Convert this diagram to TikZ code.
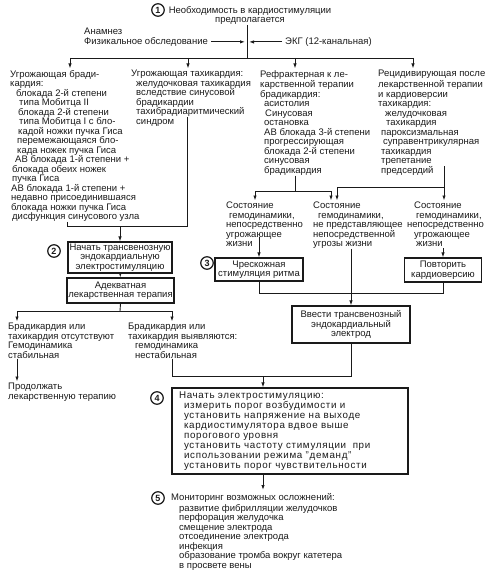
\documentclass[tikz,border=0pt]{standalone}
\usepackage{fontspec}
\setmainfont{Liberation Sans}
\usetikzlibrary{arrows.meta, positioning}
\definecolor{ink}{HTML}{1a1a1a}
\def\rowSkip{9.5}
\def\textSize{9.5}

\begin{document}
\begin{tikzpicture}[
    x=1pt, y=-1pt,
    font=\fontsize{\textSize}{\rowSkip}\selectfont,
    every node/.style={text=ink},
    txt/.style={anchor=north west, align=left, inner sep=0pt},
    box/.style={draw=ink, line width=1.1pt, inner sep=0pt, align=center},
    num/.style={circle, draw=ink, line width=1.2pt, inner sep=0pt,
                minimum size=12.5pt, font=\fontsize{9}{9}\selectfont\bfseries},
    link/.style={draw=ink, line width=0.9pt},
    arr/.style={link, -{Latex[length=5pt,width=3.4pt]}},
    ]
\useasboundingbox (0,0) rectangle (491,572);

% ====================================================================
% Step 1 -- indication and work-up
% ====================================================================
\node[num] (n1) at (158,10) {1};
\node[anchor=north, align=center, inner sep=0pt] (need) at (250,6)
  {\strut Необходимость в кардиостимуляции\\предполагается};
\node[anchor=base west, inner sep=0pt] (anam) at (84,34.4) {Анамнез};
\node[anchor=base west, inner sep=0pt] (phys) at (84,44.4) {Физикальное обследование};
\node[anchor=base west, inner sep=0pt] (ecg) at (285,44.4) {ЭКГ (12-канальная)};

% Four clinical groups
\node[txt] (brady) at (10,70) {\strut Угрожающая бради-\\
  кардия:\\
  \hspace*{6pt}блокада 2-й степени\\
  \hspace*{9pt}типа Мобитца II\\
  \hspace*{8pt}блокада 2-й степени\\
  \hspace*{9pt}типа Мобитца I с бло-\\
  \hspace*{8pt}кадой ножки пучка Гиса\\
  \hspace*{7pt}перемежающаяся бло-\\
  \hspace*{7pt}када ножек пучка Гиса\\
  \hspace*{5pt}АВ блокада 1-й степени +\\
  \hspace*{2pt}блокада обеих ножек\\
  \hspace*{2pt}пучка Гиса\\
  \hspace*{1pt}АВ блокада 1-й степени +\\
  \hspace*{1pt}недавно присоединившаяся\\
  \hspace*{1pt}блокада ножки пучка Гиса\\
  \hspace*{2pt}дисфункция синусового узла};
\node[txt] (tachy) at (131,70) {\strut Угрожающая тахикардия:\\
  \hspace*{5pt}желудочковая тахикардия\\
  \hspace*{5pt}вследствие синусовой\\
  \hspace*{5pt}брадикардии\\
  \hspace*{5pt}тахибрадиаритмический\\
  \hspace*{5pt}синдром};
\node[txt] (refr) at (260,70) {\strut Рефрактерная к ле-\\
  карственной терапии\\
  брадикардия:\\
  \hspace*{4pt}асистолия\\
  \hspace*{5pt}Синусовая\\
  \hspace*{4pt}остановка\\
  \hspace*{4pt}АВ блокада 3-й степени\\
  \hspace*{4pt}прогрессирующая\\
  \hspace*{4pt}блокада 2-й степени\\
  \hspace*{4pt}синусовая\\
  \hspace*{4pt}брадикардия};
\node[txt] (recur) at (378,70) {\strut Рецидивирующая после\\
  лекарственной терапии\\
  и кардиоверсии\\
  тахикардия:\\
  \hspace*{7pt}желудочковая\\
  \hspace*{8pt}тахикардия\\
  \hspace*{3pt}пароксизмальная\\
  \hspace*{5pt}суправентрикулярная\\
  \hspace*{3pt}тахикардия\\
  \hspace*{3pt}трепетание\\
  \hspace*{3pt}предсердий};

\coordinate (hub) at (247,58);
\coordinate (busA) at (70,58);
\coordinate (busB) at (188,58);
\coordinate (busC) at (295,58);
\coordinate (busD) at (413,58);
\draw[link] (need.south -| hub) -- (hub);
\draw[arr, shorten >=2pt] ([xshift=3pt]phys.east) -- (phys.east -| hub);
\draw[arr, shorten >=2pt] ([xshift=-3pt]ecg.west) -- (ecg.west -| hub);
\draw[link] (busA) -- (busD);
\foreach \b/\c in {busA/brady, busB/tachy, busC/refr, busD/recur}
  \draw[arr, shorten >=1.5pt] (\b) -- (\b |- \c.north);

% ====================================================================
% Step 2 -- transvenous pacing, left branch
% ====================================================================
\node[num] (n2) at (54,251) {2};
\node[box, minimum width=104pt, minimum height=31pt] (box2) at (120,257.5)
  {Начать трансвенозную\\эндокардиальную\\электростимуляцию};
\node[box, minimum width=107pt, minimum height=25pt] (boxDrug) at (120.5,290.5)
  {Адекватная\\лекарственная терапия};

\coordinate (joinA) at (67,226);
\coordinate (joinB) at (187,226);
\coordinate (tachyEnd) at (187,117);
\draw[link] (brady.south -| joinA) -- (joinA) -- (joinB) -- (tachyEnd);
\draw[arr] (box2.north |- joinA) -- (box2.north);
\draw[arr] (box2) -- (boxDrug);

\node[txt] (noBrady) at (8,323) {\strut Брадикардия или\\
  тахикардия отсутствуют\\
  Гемодинамика\\
  стабильная};
\node[txt] (yesBrady) at (128,323) {\strut Брадикардия или\\
  тахикардия выявляются:\\
  \hspace*{7pt}гемодинамика\\
  \hspace*{7pt}нестабильная};
\node[txt] (cont) at (8,383) {\strut Продолжать\\
  лекарственную терапию};

\coordinate (drugSplit) at (120,311);
\coordinate (drugL) at (17,311);
\coordinate (drugR) at (172,311);
\draw[link] (boxDrug.south) -- (drugSplit);
\draw[link] (drugL) -- (drugR);
\draw[arr, shorten >=1.5pt] (drugL) -- (drugL |- noBrady.north);
\draw[arr, shorten >=1.5pt] (drugR) -- (drugR |- yesBrady.north);
\draw[arr, shorten >=1.5pt] (noBrady.south -| drugL) -- (cont.north -| drugL);

% ====================================================================
% Step 3 -- haemodynamic state, right branches
% ====================================================================
\node[txt] (sThreat) at (226,202) {\strut Состояние\\
  \hspace*{3pt}гемодинамики,\\
  непосредственно\\
  угрожающее\\
  жизни};
\node[txt] (sCalm) at (313,202) {\strut Состояние\\
  \hspace*{5pt}гемодинамики,\\
  не представляющее\\
  непосредственной\\
  угрозы жизни};
\node[txt] (sThreatB) at (407,202) {\strut\hspace*{7pt}Состояние\\
  \hspace*{9pt}гемодинамики,\\
  непосредственно\\
  \hspace*{7pt}угрожающее\\
  \hspace*{9pt}жизни};

\coordinate (refrSplit) at (295,191);
\coordinate (refrL) at (255,191);
\coordinate (refrR) at (331,191);
\draw[link] (refr.south -| refrSplit) -- (refrSplit);
\draw[link] (refrL) -- (refrR);
\draw[arr, shorten >=1.5pt] (refrL) -- (refrL |- sThreat.north);
\draw[arr, shorten >=1.5pt] (refrR) -- (refrR |- sCalm.north);

\coordinate (recurEnd) at (444,166);
\coordinate (recurSplit) at (444,187);
\coordinate (recurL) at (337,187);
\draw[link] (recurEnd) -- (recurSplit) -- (recurL);
\draw[arr, shorten >=1.5pt] (recurL) -- (recurL |- sCalm.north);
\draw[arr, shorten >=1.5pt] (recurSplit) -- (recurSplit |- sThreatB.north);

\node[num] (n3) at (207,263) {3};
\node[box, minimum width=88pt, minimum height=23pt] (box3) at (259,269.5)
  {Чрескожная\\стимуляция ритма};
\node[box, minimum width=77pt, minimum height=24pt] (boxCV) at (443,270)
  {Повторить\\кардиоверсию};
\node[box, minimum width=118pt, minimum height=37pt] (boxLead) at (351,324.5)
  {Ввести трансвенозный\\эндокардиальный\\электрод};

\coordinate (threatOut) at (259,237);
\coordinate (threatBOut) at (443,248);
\coordinate (calmOut) at (351,249);
\coordinate (mergeY) at (351,293);
\draw[arr] (threatOut) -- (box3.north);
\draw[arr] (threatBOut) -- (boxCV.north);
\draw[link] (box3.south) -- (box3.south |- mergeY) -- (boxCV.south |- mergeY)
  -- (boxCV.south);
\draw[arr] (calmOut) -- (boxLead.north);

% ====================================================================
% Steps 4 and 5 -- pacing set-up and monitoring
% ====================================================================
\node[num] (n4) at (157,398) {4};
\node[box, align=left, text width=222pt, inner xsep=7pt,
      minimum height=86pt,
      font=\fontsize{9.8}{10}\selectfont\addfontfeatures{LetterSpace=7}]
      (box4) at (290,431)
  {Начать электростимуляцию:\\
  \hspace*{5pt}измерить порог возбудимости и\\
  \hspace*{5pt}установить напряжение на выходе\\
  \hspace*{5pt}кардиостимулятора вдвое выше\\
  \hspace*{5pt}порогового уровня\\
  \hspace*{5pt}установить частоту стимуляции\ \ при\\
  \hspace*{5pt}использовании режима "деманд"\\
  \hspace*{5pt}установить порог чувствительности};

\coordinate (unstable) at (172,376);
\coordinate (leadDown) at (351,376);
\coordinate (pace) at (263,376);
\draw[link] (yesBrady.south -| unstable) -- (unstable) -- (leadDown)
  -- (boxLead.south);
\draw[arr] (pace) -- (pace |- box4.north);

\node[num] (n5) at (158,498) {5};
\node[txt] (monitor) at (171,493) {\strut Мониторинг возможных осложнений:\\
  \hspace*{8pt}развитие фибрилляции желудочков\\
  \hspace*{8pt}перфорация желудочка\\
  \hspace*{8pt}смещение электрода\\
  \hspace*{8pt}отсоединение электрода\\
  \hspace*{8pt}инфекция\\
  \hspace*{8pt}образование тромба вокруг катетера\\
  \hspace*{8pt}в просвете вены};
\draw[arr, shorten >=3pt] (box4.south -| pace) -- (pace |- monitor.north);

\end{tikzpicture}
\end{document}
